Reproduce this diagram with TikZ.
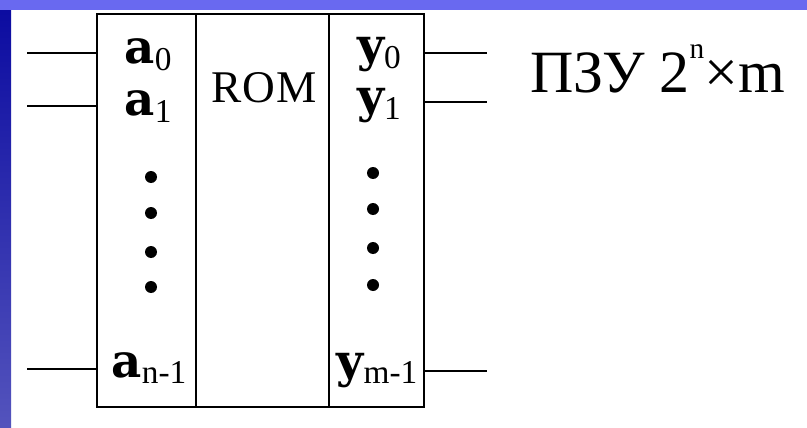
\documentclass[tikz,border=0pt]{standalone}
\usepackage{fontspec}
\setmainfont{Liberation Serif}
\newfontfamily\pinfont{DejaVu Serif}
\usetikzlibrary{positioning}
\definecolor{slideblue}{RGB}{10,10,160}
\definecolor{slidelight}{RGB}{105,105,240}

% bold pin letter with a lowered plain index
\newcommand{\pinname}[2]{{\pinfont\bfseries\fontsize{35}{35}\selectfont #1}\raisebox{-5pt}{\fontsize{25}{25}\selectfont #2}}

\begin{document}
\begin{tikzpicture}[
  x=0.75pt, y=-0.75pt,
  column/.style = {rectangle, draw, line width=1.5pt, minimum height=294.75pt,
                   inner sep=0pt, outer sep=0pt},
  pinlabel/.style = {anchor=base, inner sep=0pt},
  wire/.style   = {line width=1.6pt},
  dot/.style    = {fill=black},
  node distance = 0pt,
]
  \useasboundingbox (0,0) rectangle (807,428);
  \fill[white] (0,0) rectangle (807,428);
  \shade[top color=slideblue, bottom color=slideblue!70!white] (0,0) rectangle (11,428);
  \fill[slidelight] (0,0) rectangle (807,10);

  \node[column, minimum width=74.25pt] (colA) at (146.5,210.5) {};
  \node[column, minimum width=99.75pt, right=of colA] (rom) {};
  \node[column, minimum width=71.25pt, right=of rom] (colY) {};

  \node[anchor=base, inner sep=0pt, font=\fontsize{34}{34}\selectfont] (romtext) at (264,103) {R\kern1pt O\kern1pt M};

  \node[pinlabel] (a0)  at (148,64)  {\pinname{a}{0}};
  \node[pinlabel] (a1)  at (148,116) {\pinname{a}{1}};
  \node[pinlabel] (an)  at (149,377) {\pinname{a}{n-1}};
  \node[pinlabel] (y0)  at (379,62)  {\pinname{y}{0}};
  \node[pinlabel] (y1)  at (379,113) {\pinname{y}{1}};
  \node[pinlabel] (ym)  at (377,377) {\pinname{y}{m-1}};

  \foreach \yy in {177,213,252,287} \fill[dot] (151,\yy) circle (4.5pt);
  \foreach \yy in {173,209,248,285} \fill[dot] (373,\yy) circle (4.5pt);

  % inputs
  \coordinate (inA0) at (27,53);
  \coordinate (inA1) at (27,106);
  \coordinate (inAn) at (27,369);
  \draw[wire] (inA0) -- (inA0 -| colA.west);
  \draw[wire] (inA1) -- (inA1 -| colA.west);
  \draw[wire] (inAn) -- (inAn -| colA.west);

  % outputs
  \coordinate (outY0) at (487,53);
  \coordinate (outY1) at (487,102);
  \coordinate (outYm) at (487,371);
  \draw[wire] (colY.east |- outY0) -- (outY0);
  \draw[wire] (colY.east |- outY1) -- (outY1);
  \draw[wire] (colY.east |- outYm) -- (outYm);

  \node[anchor=base west, inner sep=0pt, font=\fontsize{45}{45}\selectfont] (title) at (530,93)
    {ПЗУ 2\raisebox{26pt}{\fontsize{22}{22}\selectfont n}×m};
\end{tikzpicture}
\end{document}
